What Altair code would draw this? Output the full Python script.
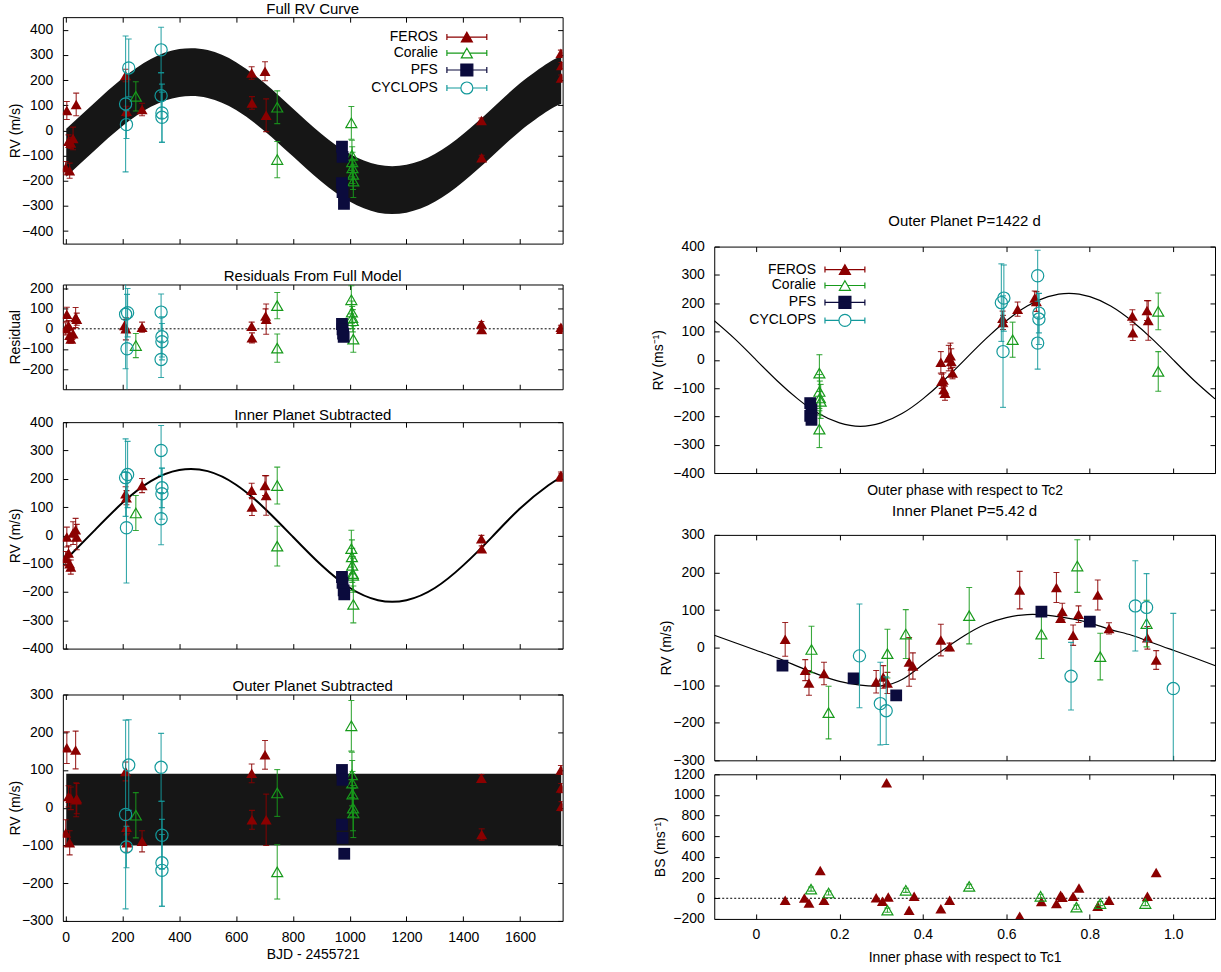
import altair as alt
import pandas as pd

FONT = "Liberation Sans"
INST = ["FEROS", "Coralie", "PFS", "CYCLOPS"]
COLORS = ["#8b0000", "#179a1b", "#0b0b3d", "#13999b"]
COLOR = dict(zip(INST, COLORS))
MARK = {"FEROS": ("triangle-up", True, 121), "Coralie": ("triangle-up", False, 121),
        "PFS": ("square", True, 140), "CYCLOPS": ("circle", False, 150)}

# ---------------- data: rows of [x, value, error] ----------------
# Full RV curve (x = BJD - 2455721)
full_feros = [[0, -149, 25], [4, 79, 36], [10, -43, 25], [14, -160, 30], [18, -50, 22], [26, -32, 45],
              [37, 103, 45], [211, 218, 25], [214, 76, 20], [269, 83, 25], [655, 228, 25], [656, 109, 25],
              [702, 235, 38], [706, 60, 65], [1464, 39, 10], [1465, -109, 10], [1744, 307, 12],
              [1746, 258, 12], [1745, 208, 12]]
full_coralie = [[247, 135, 58], [745, 92, 65], [745, -116, 72], [1006, 30, 65], [1008, -99, 60],
                [1009, -125, 60], [1010, -149, 62], [1012, -175, 60], [1013, -202, 65]]
full_pfs = [[973, -65, 4], [975, -105, 4], [973, -210, 4], [975, -245, 4], [980, -292, 4]]
full_cyclops = [[222, 248, 115], [211, 105, 270], [214, 23, 55], [336, 320, 90], [336, 138, 90],
                [339, 69, 115], [339, 52, 100]]
band_t = [2, 100, 200, 300, 400, 500, 600, 700, 800, 900, 1000, 1100, 1200, 1300, 1400, 1500, 1600, 1700, 1745]
band_hi = [6, 108, 207, 284, 323, 319, 271, 188, 87, -13, -93, -137, -137, -94, -14, 85, 187, 269, 296]
band_lo = [-184, -82, 17, 94, 133, 129, 81, -2, -103, -203, -283, -327, -327, -284, -204, -105, -3, 79, 106]

# Residuals from full model
res_feros = [[0, 0, 30], [4, 72, 35], [10, 16, 25], [14, -32, 25], [18, -51, 20], [26, -24, 25],
             [35, 56, 50], [39, 48, 30], [207, 16, 30], [212, 0, 55], [269, 8, 25], [655, 13, 20],
             [656, -45, 25], [704, 64, 35], [706, 48, 75], [1464, 24, 12], [1465, -3, 10],
             [1744, 8, 10], [1746, -2, 10]]
res_coralie = [[247, -83, 60], [745, 115, 65], [745, -96, 70], [1006, 144, 70], [1008, 83, 55],
               [1009, 56, 55], [1011, 40, 55], [1013, -51, 65]]
res_pfs = [[973, 24, 4], [975, -3, 4], [977, -24, 4], [979, -40, 4]]
res_cyclops = [[211, 72, 270], [218, 80, 120], [216, -99, 270], [336, 83, 90], [339, -40, 100],
               [339, -64, 90], [336, -152, 90]]
res_zero = [0]

# Inner planet subtracted
inn_feros = [[0, -82, 25], [4, -6, 35], [10, -62, 25], [14, -100, 25], [18, -112, 25], [26, 8, 40],
             [35, 20, 40], [39, -6, 45], [211, 147, 25], [214, 133, 25], [269, 176, 25], [655, 159, 25],
             [656, 100, 30], [702, 176, 35], [706, 141, 70], [1464, -12, 12], [1465, -47, 10],
             [1744, 212, 12], [1746, 206, 12]]
inn_coralie = [[247, 79, 62], [745, 176, 65], [745, -38, 70], [1006, -47, 65], [1008, -76, 60],
               [1009, -106, 60], [1011, -135, 60], [1012, -141, 60], [1013, -244, 65]]
inn_pfs = [[973, -147, 4], [975, -168, 4], [979, -194, 4], [981, -208, 4]]
inn_cyclops = [[211, 204, 137], [218, 215, 117], [214, 27, 195], [336, 300, 88], [339, 168, 70],
               [339, 147, 90], [336, 59, 92]]
outer_t = [0, 100, 200, 300, 400, 500, 600, 700, 800, 900, 1000, 1100, 1200, 1300, 1400, 1500, 1600, 1700, 1745]
outer_rv = [-86, 16, 115, 192, 231, 227, 179, 96, -5, -105, -185, -229, -229, -186, -106, -7, 95, 177, 204]

# Outer planet subtracted
out_feros = [[0, -67, 35], [4, 159, 42], [10, 30, 28], [14, -93, 32], [18, 25, 30], [35, 153, 50],
             [37, 21, 45], [39, 24, 40], [211, 96, 25], [214, -52, 20], [216, -93, 25], [269, -89, 28],
             [655, 91, 25], [656, -32, 25], [702, 140, 38], [706, -32, 68], [1464, 78, 10],
             [1465, -71, 15], [1744, 100, 12], [1745, 52, 12], [1746, 4, 12]]
out_coralie = [[247, -20, 60], [745, 39, 62], [745, -170, 72], [1006, 217, 67], [1008, 87, 60],
               [1009, 65, 60], [1010, 36, 60], [1012, -1, 60], [1013, -14, 65]]
out_pfs = [[973, 100, 4], [975, 74, 4], [973, -45, 4], [975, -80, 4], [981, -122, 4]]
out_cyclops = [[211, -18, 250], [214, -104, 55], [222, 113, 120], [336, 107, 90], [339, -73, 90],
               [339, -146, 115], [339, -166, 95]]
inner_band_t = [2, 1745]
inner_band_hi = [90, 90]
inner_band_lo = [-100, -100]

# Outer planet, phased
op_feros = [[0.443, -9, 38], [0.445, -76, 25], [0.449, -71, 25], [0.450, -106, 25], [0.453, -118, 25],
            [0.462, 6, 45], [0.466, 14, 45], [0.468, -6, 45], [0.471, -47, 20], [0.591, 147, 25],
            [0.592, 132, 25], [0.627, 179, 25], [0.668, 218, 25], [0.672, 206, 35], [0.902, 155, 22],
            [0.903, 96, 28], [0.937, 174, 35], [0.940, 139, 70]]
op_coralie = [[0.152, -47, 65], [0.152, -112, 60], [0.153, -135, 60], [0.155, -147, 60],
              [0.152, -245, 65], [0.615, 71, 62], [0.964, 171, 65], [0.964, -41, 70]]
op_pfs = [[0.130, -153, 4], [0.133, -176, 4], [0.130, -198, 4], [0.133, -212, 4]]
op_cyclops = [[0.588, 202, 137], [0.594, 218, 117], [0.592, 29, 197], [0.675, 297, 90],
              [0.678, 165, 70], [0.678, 144, 90], [0.675, 59, 92]]
phase_grid = [-0.1, -0.05, 0.0, 0.05, 0.1, 0.15, 0.2, 0.25, 0.3, 0.35, 0.4, 0.45, 0.5, 0.55, 0.6,
              0.65, 0.7, 0.75, 0.8, 0.85, 0.9, 0.95, 1.0, 1.05, 1.1]
op_model = [138, 73, 0, -73, -138, -190, -223, -235, -223, -190, -138, -73, 0, 73, 138, 190, 223,
            235, 223, 190, 138, 73, 0, -73, -138]

# Inner planet, phased
ip_feros = [[0.070, 22, 45], [0.118, -60, 28], [0.127, -94, 33], [0.163, -69, 30], [0.288, -91, 30],
            [0.305, -78, 30], [0.315, -94, 28], [0.367, -38, 65], [0.376, -49, 35], [0.443, 20, 42],
            [0.464, 2, 10], [0.632, 153, 50], [0.720, 160, 40], [0.734, 96, 22], [0.730, 78, 10],
            [0.760, 33, 27], [0.773, 89, 22], [0.819, 140, 40], [0.846, 51, 15], [0.938, 26, 30],
            [0.959, -33, 25]]
ip_coralie = [[0.133, -5, 62], [0.174, -173, 70], [0.315, -16, 65], [0.359, 36, 65], [0.511, 85, 75],
              [0.684, 36, 65], [0.770, 217, 70], [0.825, -24, 62], [0.936, 64, 62]]
ip_pfs = [[0.0635, -48, 4], [0.234, -82, 4], [0.336, -127, 4], [0.684, 96, 4], [0.800, 69, 4]]
ip_cyclops = [[0.248, -22, 138], [0.298, -149, 110], [0.312, -168, 90], [0.755, -76, 90],
              [0.909, 111, 120], [0.936, 107, 90], [1.0, -109, 200]]
ip_model = [33, 13, -7, -27, -50, -72, -90, -100, -102, -85, -45, -5, 32, 62, 80, 88, 86, 78, 66,
            48, 33, 13, -7, -27, -48]

# Bisector span
bs_feros = [[0.070, -19, 0], [0.116, 3, 0], [0.127, -45, 0], [0.154, 268, 0], [0.163, -19, 0],
            [0.288, 6, 0], [0.303, -29, 0], [0.313, 1118, 0], [0.317, 13, 0], [0.367, -115, 0],
            [0.379, 19, 0], [0.443, -102, 0], [0.464, -19, 0], [0.632, -173, 0], [0.684, -32, 0],
            [0.720, -51, 0], [0.730, 29, 0], [0.734, 10, 0], [0.760, 19, 0], [0.774, 99, 0],
            [0.819, -77, 0], [0.846, -19, 0], [0.938, 19, 0], [0.959, 249, 0]]
bs_coralie = [[0.132, 89, 20], [0.174, 51, 20], [0.315, -115, 20], [0.359, 77, 20], [0.511, 115, 20],
              [0.682, 19, 20], [0.768, -86, 20], [0.825, -51, 20], [0.933, -51, 20]]

time_ticks = [0, 200, 400, 600, 800, 1000, 1200, 1400, 1600]
phase_ticks = [0, 0.2, 0.4, 0.6, 0.8, 1.0]

# legend symbols (line + error caps + marker), drawn to the right of the label; units of 4 px
CAPS = "M4,-0.75L4,0.75M14,-0.75L14,0.75"
TRI = "M9,-1.2L10.38,1.2L7.62,1.2Z"
LEG_PATH = [
    "M4,0L14,0" + CAPS + TRI,
    "M4,0L8.2,0M9.8,0L14,0" + CAPS + TRI,
    "M4,0L14,0" + CAPS + "M7.5,-1.5L10.5,-1.5L10.5,1.5L7.5,1.5Z",
    "M4,0L7.5,0M10.5,0L14,0" + CAPS + "M10.5,0A1.5,1.5,0,1,1,7.5,0A1.5,1.5,0,1,1,10.5,0Z",
]
LEG_FILL = ["#8b0000", "transparent", "#0b0b3d", "transparent"]

TXT = dict(labelFont=FONT, labelFontSize=14, labelColor="black", titleFont=FONT, titleFontSize=14,
           titleFontWeight="normal", titleColor="black")
TICK = dict(grid=False, domain=False, labels=False, ticks=True, tickSize=5, offset=-5, title=None,
            tickColor="black", tickWidth=1)


def rows_df(rows):
    df = pd.DataFrame(rows, columns=["x", "y", "e"])
    df["lo"] = df["y"] - df["e"]
    df["hi"] = df["y"] + df["e"]
    return df


def inst_layers(rows, inst, xs, ys, bars=True):
    df = rows_df(rows)
    c = COLOR[inst]
    shape, filled, size = MARK[inst]
    X = alt.X("x:Q", scale=xs, axis=None)
    out = []
    if bars:
        out.append(alt.Chart(df).mark_rule(color=c, strokeWidth=1.1, opacity=0.85, clip=True).encode(
            x=X, y=alt.Y("lo:Q", scale=ys, axis=None), y2="hi:Q"))
        out.append(alt.Chart(df).transform_fold(["lo", "hi"], as_=["k", "v"]).mark_tick(
            orient="horizontal", size=6, thickness=1.1, color=c, opacity=0.85, clip=True).encode(
            x=X, y=alt.Y("v:Q", scale=ys, axis=None)))
    out.append(alt.Chart(df).mark_point(shape=shape, filled=filled, size=size, color=c, opacity=1,
                                        strokeWidth=1.2, clip=True).encode(
        x=X, y=alt.Y("y:Q", scale=ys, axis=None)))
    return out


def legend_layer(lx, ly):
    leg = alt.Legend(orient="none", legendX=lx, legendY=ly, title=None, labelFont=FONT, labelFontSize=14,
                     labelColor="black", labelAlign="right", labelOffset=0,
                     symbolSize=64, symbolStrokeWidth=1.2, rowPadding=0, padding=0, symbolOpacity=1)
    df = pd.DataFrame({"inst": INST})
    return alt.Chart(df).transform_filter("datum.inst == 'none'").mark_point(
        size=64, opacity=1, filled=False).encode(
        stroke=alt.Stroke("inst:N", scale=alt.Scale(domain=INST, range=COLORS), legend=leg),
        fill=alt.Fill("inst:N", scale=alt.Scale(domain=INST, range=LEG_FILL), legend=leg),
        shape=alt.Shape("inst:N", scale=alt.Scale(domain=INST, range=LEG_PATH), legend=leg))


def panel(W, H, xdom, ydom, xticks, yticks, sets, title, title_off, ytitle, ytitle_pad,
          x_ext, xlabels=False, xtitle=None, xtitle_pad=0, xexpr=None, extra=(), legend=None,
          bars_for=INST, xlabel_pad=9):
    xs = alt.Scale(domain=xdom, nice=False, zero=False)
    ys = alt.Scale(domain=ydom, nice=False, zero=False)
    base = rows_df(sets[0][1])
    xa = dict(values=xticks, labels=xlabels, ticks=False, domain=False, grid=False, title=xtitle,
              minExtent=x_ext, maxExtent=x_ext, labelPadding=xlabel_pad, titlePadding=xtitle_pad,
              labelFlush=False, labelOverlap=False, **TXT)
    if xexpr:
        xa["labelExpr"] = xexpr
    else:
        xa["format"] = "d"
    ya = dict(values=yticks, labels=True, ticks=False, domain=False, grid=False, title=ytitle,
              minExtent=37, maxExtent=37, labelPadding=10, titlePadding=ytitle_pad, format="d",
              labelOverlap=False, **TXT)
    layers = [
        alt.Chart(base).mark_point(opacity=0).encode(
            x=alt.X("x:Q", scale=xs, axis=alt.Axis(**xa)),
            y=alt.Y("y:Q", scale=ys, axis=alt.Axis(**ya))),
        alt.Chart(base).mark_point(opacity=0).encode(
            x=alt.X("x:Q", scale=xs, axis=alt.Axis(orient="bottom", values=xticks, **TICK)),
            y=alt.Y("y:Q", scale=ys, axis=alt.Axis(orient="left", values=yticks, **TICK))),
        alt.Chart(base).mark_point(opacity=0).encode(
            x=alt.X("x:Q", scale=xs, axis=alt.Axis(orient="top", values=xticks, **TICK)),
            y=alt.Y("y:Q", scale=ys, axis=alt.Axis(orient="right", values=yticks, **TICK))),
    ]
    for kind, spec in extra:
        if kind == "band":
            t, hi, lo = spec
            df = pd.DataFrame({"x": t, "hi": hi, "lo": lo})
            layers.append(alt.Chart(df).mark_area(color="#161616", interpolate="natural", clip=True).encode(
                x=alt.X("x:Q", scale=xs, axis=None), y=alt.Y("hi:Q", scale=ys, axis=None), y2="lo:Q"))
        elif kind == "line":
            t, v, w = spec
            df = pd.DataFrame({"x": t, "y": v})
            layers.append(alt.Chart(df).mark_line(color="black", strokeWidth=w, interpolate="natural",
                                                  clip=True).encode(
                x=alt.X("x:Q", scale=xs, axis=None), y=alt.Y("y:Q", scale=ys, axis=None)))
        elif kind == "zero":
            df = pd.DataFrame({"y": spec})
            layers.append(alt.Chart(df).mark_rule(color="black", strokeDash=[2, 2], strokeWidth=1).encode(
                y=alt.Y("y:Q", scale=ys, axis=None)))
    for inst, rows in sets:
        layers += inst_layers(rows, inst, xs, ys, bars=(inst in bars_for))
    if legend:
        layers.append(legend_layer(*legend))
    return alt.layer(*layers).resolve_axis(x="independent", y="independent").properties(
        width=W, height=H,
        title=alt.TitleParams(text=title, font=FONT, fontSize=15, fontWeight="normal", color="black",
                              offset=title_off, anchor="middle"))


WL, WR = 501, 502
TD = [-10, 1750]
PD = [-0.1, 1.1]
PHASE_EXPR = "datum.value == 0 ? '0' : format(datum.value, '.1f')"

p1 = panel(WL, 227, TD, [-450, 450], time_ticks, list(range(-400, 401, 100)),
           [("FEROS", full_feros), ("Coralie", full_coralie), ("PFS", full_pfs), ("CYCLOPS", full_cyclops)],
           "Full RV Curve", 0, "RV (m/s)", 3, 23,
           extra=[("band", (band_t, band_hi, band_lo))], legend=(362, 13))
p2 = panel(WL, 105, TD, [-300, 220], time_ticks, list(range(-200, 201, 100)),
           [("FEROS", res_feros), ("Coralie", res_coralie), ("PFS", res_pfs), ("CYCLOPS", res_cyclops)],
           "Residuals From Full Model", -2, "Residual", 3, 17, extra=[("zero", res_zero)])
p3 = panel(WL, 227, TD, [-400, 400], time_ticks, list(range(-400, 401, 100)),
           [("FEROS", inn_feros), ("Coralie", inn_coralie), ("PFS", inn_pfs), ("CYCLOPS", inn_cyclops)],
           "Inner Planet Subtracted", -8, "RV (m/s)", 3, 29, extra=[("line", (outer_t, outer_rv, 2))])
p4 = panel(WL, 227, TD, [-300, 300], time_ticks, list(range(-300, 301, 100)),
           [("FEROS", out_feros), ("Coralie", out_coralie), ("PFS", out_pfs), ("CYCLOPS", out_cyclops)],
           "Outer Planet Subtracted", -7, "RV (m/s)", 3, 24, xlabels=True, xtitle="BJD - 2455721",
           xtitle_pad=3, xlabel_pad=10, extra=[("band", (inner_band_t, inner_band_hi, inner_band_lo))])

r1 = panel(WR, 227, PD, [-400, 400], phase_ticks, list(range(-400, 401, 100)),
           [("FEROS", op_feros), ("Coralie", op_coralie), ("PFS", op_pfs), ("CYCLOPS", op_cyclops)],
           "Outer Planet P=1422 d", 11, "RV (ms⁻¹)", 12, 0,
           xtitle="Outer phase with respect to Tc2", xtitle_pad=11,
           extra=[("line", (phase_grid, op_model, 1.2))], legend=(88, 16))
r2 = panel(WR, 226, PD, [-300, 300], phase_ticks, list(range(-300, 301, 100)),
           [("FEROS", ip_feros), ("Coralie", ip_coralie), ("PFS", ip_pfs), ("CYCLOPS", ip_cyclops)],
           "Inner Planet P=5.42 d", 9, "RV (m/s)", 4, 0,
           extra=[("line", (phase_grid, ip_model, 1.2))])
r3 = panel(WR, 145, PD, [-200, 1200], phase_ticks, list(range(-200, 1201, 200)),
           [("FEROS", bs_feros), ("Coralie", bs_coralie)],
           "", 0, "BS (ms⁻¹)", 10, 24, xlabels=True, xtitle="Inner phase with respect to Tc1",
           xtitle_pad=8, xexpr=PHASE_EXPR, extra=[("zero", res_zero)], bars_for=["Coralie"])

spacer = alt.Chart(pd.DataFrame({"a": [0]})).mark_point(opacity=0).properties(
    width=WR, height=191, view=alt.ViewBackground(stroke="transparent"))

RS = dict(x="independent", y="independent", stroke="independent", fill="independent", shape="independent")
RL = dict(stroke="independent", fill="independent", shape="independent")

left = alt.vconcat(p1, p2, p3, p4, spacing=0).resolve_scale(**RS).resolve_legend(**RL)
r23 = alt.vconcat(r2, r3, spacing=-2).resolve_scale(**RS).resolve_legend(**RL)
right = alt.vconcat(spacer, r1, r23, spacing=4).resolve_scale(**RS).resolve_legend(**RL)

chart = alt.hconcat(left, right, spacing=85).resolve_scale(**RS).resolve_legend(**RL).properties(
    padding={"left": 8, "top": 0, "right": 5, "bottom": 5}
).configure(font=FONT).configure_view(stroke="black", strokeWidth=1)

chart.save("out.html", embed_options={"renderer": "svg", "actions": False})
